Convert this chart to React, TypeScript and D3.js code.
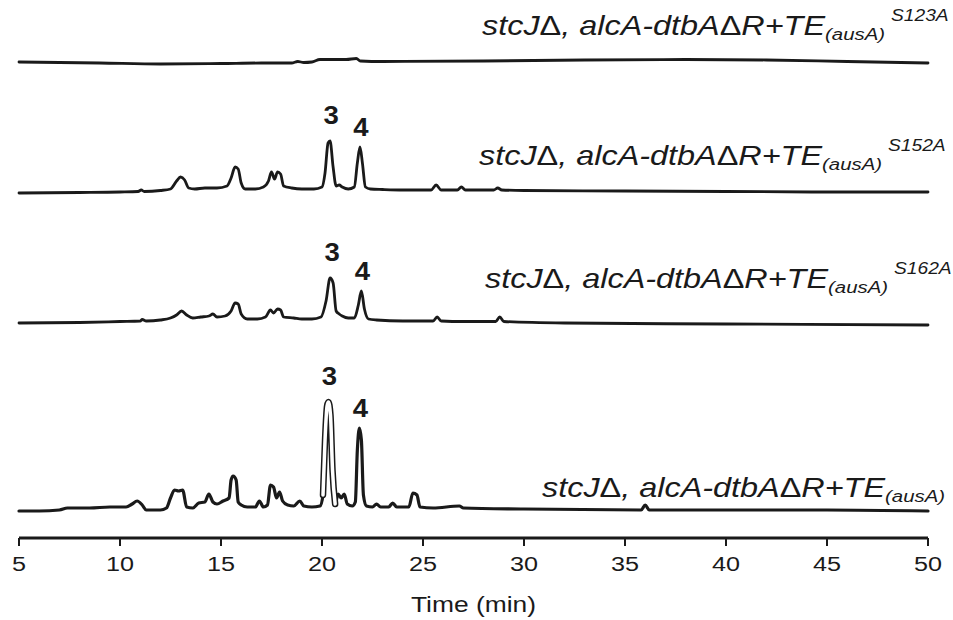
import React from "react";
import * as d3 from "d3";

// retention time (min) and detector response (arbitrary units above each trace's baseline)
const traceLabels = ["S123A", "S152A", "S162A", ""];
const trace1: [number, number][] = [
  [5, 1], [9, 0], [12, -1], [15, -0.5], [17, 0], [18.5, 0], [18.8, 1.5], [19.1, 0.5], [19.5, 1],
  [19.9, 3.5], [20.5, 3.5], [21.2, 3.5], [21.7, 4.5], [21.9, 2], [23, 1.5], [28, 2], [33, 3],
  [38, 3.5], [42, 3], [46, 1.5], [50, 0],
];
const trace2: [number, number][] = [
  [5, 0], [8, 0.5], [10, 1], [10.9, 1.5], [11.05, 3], [11.2, 1.5], [12, 2.5], [12.5, 4], [12.8, 12],
  [13.0, 16], [13.2, 13], [13.4, 5], [13.7, 4], [14.2, 5], [14.8, 5], [15.3, 7], [15.5, 15], [15.7, 26],
  [15.85, 24], [16.0, 10], [16.2, 4], [16.7, 4], [17.1, 6], [17.35, 12], [17.5, 21], [17.65, 14],
  [17.8, 21], [17.95, 19], [18.1, 7], [18.5, 5], [19.0, 4], [19.6, 4], [20.0, 6], [20.15, 20],
  [20.3, 50], [20.4, 52], [20.55, 26], [20.7, 7], [20.85, 8], [21.0, 6], [21.3, 4], [21.6, 6],
  [21.75, 30], [21.88, 46], [22.0, 30], [22.15, 6], [22.4, 4], [23, 3.5], [24, 3], [25.4, 3],
  [25.65, 8], [25.9, 3], [26.7, 3], [26.9, 6], [27.1, 3], [28.5, 3], [28.7, 5], [28.9, 3], [30, 2.5],
  [35, 2], [40, 1.5], [45, 1], [50, 1],
];
const trace3: [number, number][] = [
  [5, 0], [8, 0.5], [10, 1.5], [11, 2], [11.1, 3.5], [11.3, 2], [12, 3], [12.5, 5], [12.8, 8],
  [13.05, 12], [13.3, 8], [13.6, 5], [14.0, 6], [14.4, 7], [14.6, 9], [14.8, 6], [15.2, 7], [15.5, 12],
  [15.7, 20], [15.85, 19], [16.0, 9], [16.3, 4], [16.8, 4], [17.2, 6], [17.45, 13], [17.6, 10],
  [17.8, 14], [17.95, 13], [18.1, 6], [18.6, 5], [19.0, 4], [19.5, 4], [19.95, 6], [20.2, 22],
  [20.4, 45], [20.55, 40], [20.7, 12], [20.85, 9], [21.0, 7], [21.3, 5], [21.6, 5], [21.8, 18],
  [21.95, 32], [22.1, 14], [22.3, 4], [22.7, 3], [24, 2], [25.5, 2], [25.7, 6], [25.9, 2], [27, 1.5],
  [28.6, 1.5], [28.8, 6], [29.0, 1.5], [32, 0], [40, -1], [50, -2],
];
const trace4: [number, number][] = [
  [5, -1], [6, -1], [7, 0], [7.4, 2], [8.5, 2], [9.5, 3], [10.3, 3], [10.6, 6], [10.85, 9], [11.1, 5],
  [11.3, 0], [12.0, 0], [12.3, 2], [12.5, 12], [12.7, 20], [12.9, 19], [13.1, 20], [13.3, 3], [13.6, 2],
  [13.9, 7], [14.2, 8], [14.4, 16], [14.6, 8], [14.8, 6], [15.1, 9], [15.4, 12], [15.5, 30], [15.6, 34],
  [15.75, 30], [15.85, 8], [16.0, 5], [16.3, 3], [16.7, 3], [16.9, 9], [17.1, 3], [17.3, 5], [17.45, 25],
  [17.6, 23], [17.75, 12], [17.9, 18], [18.05, 9], [18.3, 5], [18.6, 4], [18.9, 9], [19.1, 4], [19.5, 3],
  [19.9, 4], [20.05, 15], [20.15, 70], [20.25, 104], [20.32, 108], [20.42, 95], [20.52, 40], [20.65, 6],
  [20.8, 16], [20.95, 12], [21.1, 16], [21.25, 6], [21.5, 4], [21.65, 8], [21.75, 60], [21.85, 82],
  [21.95, 70], [22.05, 15], [22.2, 4], [22.5, 3], [22.7, 6], [22.9, 3], [23.3, 3], [23.5, 7], [23.7, 3],
  [24.3, 3], [24.5, 17], [24.7, 15], [24.85, 3], [25.5, 2], [26.8, 4], [27.0, 2], [30, 1], [35.8, 0],
  [36.0, 5], [36.2, 0], [40, 0], [45, 0], [50, -1],
];
const traces = [trace1, trace2, trace3, trace4];
// peak annotations: [trace index, peak label, retention time, response]
const peakLabels: [number, string, number, number][] = [
  [1, "3", 20.4, 52], [1, "4", 21.88, 46],
  [2, "3", 20.45, 45], [2, "4", 21.95, 32],
  [3, "3", 20.32, 108], [3, "4", 21.85, 82],
];
const hollowRange: [number, number] = [19.95, 20.7];
const xTicks = [5, 10, 15, 20, 25, 30, 35, 40, 45, 50];

// layout
const W = 953, H = 620;
const baselines = [63, 193, 323, 510];
const labelPos = [
  { x: 482, y: 35 },
  { x: 479, y: 165 },
  { x: 485, y: 288 },
  { x: 542, y: 497 },
];
const SX = 1.2; // horizontal text stretch of the original
const FONT = "'Liberation Sans', Arial, Helvetica, sans-serif";

export default function App() {
  const x = d3.scaleLinear().domain([5, 50]).range([19, 928]);
  const axisY = 538;
  const ys = baselines.map((b) => d3.scaleLinear().domain([0, 100]).range([b, b - 100]));

  return (
    <svg width={W} height={H} style={{ position: "absolute", left: 0, top: 0, background: "#fff" }}
      fontFamily={FONT}>
      {traces.map((tr, i) => {
        const line = d3.line<[number, number]>()
          .x((d) => x(d[0]))
          .y((d) => ys[i](d[1]))
          .curve(d3.curveMonotoneX);
        const hollow = tr.filter((d) => d[0] >= hollowRange[0] && d[0] <= hollowRange[1]);
        return (
          <g key={i}>
            <path d={line(tr) || ""} fill="none" stroke="#1a1a1a"
              strokeWidth={i === 3 ? 3.2 : 2.8} strokeLinejoin="round" strokeLinecap="round" />
            {i === 3 && (
              <>
                <path d={line(hollow) || ""} fill="none" stroke="#1a1a1a" strokeWidth={6.5}
                  strokeLinejoin="round" strokeLinecap="round" />
                <path d={line(hollow) || ""} fill="none" stroke="#fff" strokeWidth={3.5}
                  strokeLinejoin="round" strokeLinecap="round" />
              </>
            )}
          </g>
        );
      })}

      {peakLabels.map(([ti, lab, t, v], k) => (
        <text key={k} transform={`translate(${x(t) + 1},${ys[ti](v) - (lab === "3" ? 17 : 11)}) scale(1.1,1)`}
          textAnchor="middle" fontSize={25} fontWeight="bold" fill="#1a1a1a">{lab}</text>
      ))}

      {labelPos.map((p, i) => (
        <text key={i} transform={`translate(${p.x},${p.y}) scale(${SX},1)`} fontStyle="italic"
          fontSize={27} fill="#1a1a1a">
          stcJ<tspan fontStyle="normal">Δ</tspan>, alcA-dtbA<tspan fontStyle="normal">Δ</tspan>R+TE
          <tspan fontSize={17} dy={5}>(ausA)</tspan>
          {traceLabels[i] && <tspan fontSize={16} dy={-19} dx={5}>{traceLabels[i]}</tspan>}
        </text>
      ))}

      <line x1={x(5)} x2={x(50)} y1={axisY} y2={axisY} stroke="#1a1a1a" strokeWidth={3} />
      {xTicks.map((t) => (
        <g key={t}>
          <line x1={x(t)} x2={x(t)} y1={axisY} y2={axisY + 8} stroke="#1a1a1a" strokeWidth={2} />
          <text transform={`translate(${x(t)},${axisY + 33}) scale(${SX},1)`} textAnchor="middle"
            fontSize={21} fill="#1a1a1a">{t}</text>
        </g>
      ))}
      <text transform={`translate(${x(27.5)},${axisY + 74}) scale(${SX},1)`} textAnchor="middle"
        fontSize={22} fill="#1a1a1a">Time (min)</text>
    </svg>
  );
}
